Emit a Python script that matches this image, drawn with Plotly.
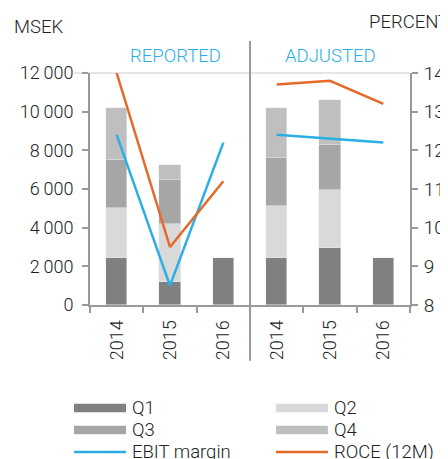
import plotly.graph_objs as go

# data
years = ['2014', '2015', '2016', '2014', '2015', '2016']
q1 = [2450, 1190, 2420, 2450, 2970, 2420]
q2 = [2570, 2990, None, 2660, 2990, None]
q3 = [2490, 2300, None, 2470, 2300, None]
q4 = [2680, 780, None, 2610, 2330, None]
ebit_reported = [12.4, 8.5, 12.2]
ebit_adjusted = [12.4, 12.3, 12.2]
roce_reported = [14.0, 9.5, 11.2]
roce_adjusted = [13.7, 13.8, 13.2]

quarter_names = ['Q1', 'Q2', 'Q3', 'Q4']
quarter_colors = ['#808080', '#d9d9d9', '#a6a6a6', '#bfbfbf']
blue = '#29aee6'
orange = '#e4692a'
axis_gray = '#999999'
font = 'Roboto'

x = list(range(len(years)))

fig = go.Figure()
for name, vals, col in zip(quarter_names, [q1, q2, q3, q4], quarter_colors):
    fig.add_trace(go.Bar(x=x, y=vals, name=name, marker_color=col, width=0.4, showlegend=False))

# lines, split into reported / adjusted so they don't connect
fig.add_trace(go.Scatter(x=x[:3], y=ebit_reported, mode='lines', line=dict(color=blue, width=2.5), yaxis='y2', showlegend=False, cliponaxis=False))
fig.add_trace(go.Scatter(x=x[3:], y=ebit_adjusted, mode='lines', line=dict(color=blue, width=2.5), yaxis='y2', showlegend=False))
fig.add_trace(go.Scatter(x=x[:3], y=roce_reported, mode='lines', line=dict(color=orange, width=2.5), yaxis='y2', showlegend=False, cliponaxis=False))
fig.add_trace(go.Scatter(x=x[3:], y=roce_adjusted, mode='lines', line=dict(color=orange, width=2.5), yaxis='y2', showlegend=False))

# page body has an 8px margin, so the figure is a bit smaller
fig.update_layout(
    width=440, height=451,
    margin=dict(l=82, r=38, t=65, b=154),
    barmode='stack', bargap=0,
    plot_bgcolor='white', paper_bgcolor='white',
    separators=',\u2009',
    font=dict(family=font, size=18.5, color='#222222', weight=300),
    xaxis=dict(range=[-0.5, 5.5], tickvals=x, ticktext=years, tickangle=-90, ticks='', ticklabelstandoff=6,
               tickfont=dict(size=18), automargin=False,
               showline=True, linecolor=axis_gray, linewidth=2, showgrid=False, zeroline=False,
               minor=dict(tickvals=[-0.5, 0.5, 1.5, 2.5, 3.5, 4.5, 5.5], ticks='outside', ticklen=6, tickcolor=axis_gray, tickwidth=2)),
    yaxis=dict(range=[0, 12000], dtick=2000, tickformat=',d', showgrid=False, zeroline=False, ticklabelstandoff=5,
               tickfont=dict(size=18), automargin=False,
               showline=True, linecolor=axis_gray, linewidth=2, ticks='outside', ticklen=6, tickcolor=axis_gray, tickwidth=2),
    yaxis2=dict(range=[8, 14], dtick=1, overlaying='y', side='right', showgrid=False, zeroline=False, ticklabelstandoff=2,
                tickfont=dict(size=19), automargin=False,
                showline=True, linecolor=axis_gray, linewidth=2, ticks='outside', ticklen=6, tickcolor=axis_gray, tickwidth=2),
)

# divider and faint top border
fig.add_shape(type='line', xref='x', yref='paper', x0=2.5, x1=2.5, y0=-0.24, y1=1.138, line=dict(color=axis_gray, width=2))
fig.add_shape(type='line', xref='paper', yref='paper', x0=-0.05, x1=1.0, y0=1.0, y1=1.0, line=dict(color='#dddddd', width=1.5), layer='below')

# titles
fig.add_annotation(text='MSEK', xref='paper', yref='paper', x=-0.245, y=1.2, xanchor='left', yanchor='middle', showarrow=False)
fig.add_annotation(text='PERCENT', xref='paper', yref='paper', x=0.866, y=1.22, xanchor='left', yanchor='middle', showarrow=False)
fig.add_annotation(text='REPORTED', xref='x', yref='paper', x=1.1, y=1.075, xanchor='center', yanchor='middle', showarrow=False, font=dict(color=blue))
fig.add_annotation(text='ADJUSTED', xref='x', yref='paper', x=4.0, y=1.075, xanchor='center', yanchor='middle', showarrow=False, font=dict(color=blue))

# legend drawn by hand
legend_items = [('Q1', quarter_colors[0], 'bar'), ('Q2', quarter_colors[1], 'bar'),
                ('Q3', quarter_colors[2], 'bar'), ('Q4', quarter_colors[3], 'bar'),
                ('EBIT margin', blue, 'line'), ('ROCE (12M)', orange, 'line')]
row_y = [-0.444, -0.539, -0.634]
col_x = [-0.05, 0.581]
for i, (name, col, kind) in enumerate(legend_items):
    ly = row_y[i // 2]
    lx = col_x[i % 2]
    if kind == 'bar':
        fig.add_shape(type='rect', xref='paper', yref='paper', x0=lx, x1=lx + 0.1625, y0=ly - 0.018, y1=ly + 0.018, fillcolor=col, line_width=0)
    else:
        fig.add_shape(type='line', xref='paper', yref='paper', x0=lx, x1=lx + 0.1625, y0=ly, y1=ly, line=dict(color=col, width=2.5))
    fig.add_annotation(text=name, xref='paper', yref='paper', x=lx + 0.175, y=ly, xanchor='left', yanchor='middle', showarrow=False)

fig.write_html('out.html')
